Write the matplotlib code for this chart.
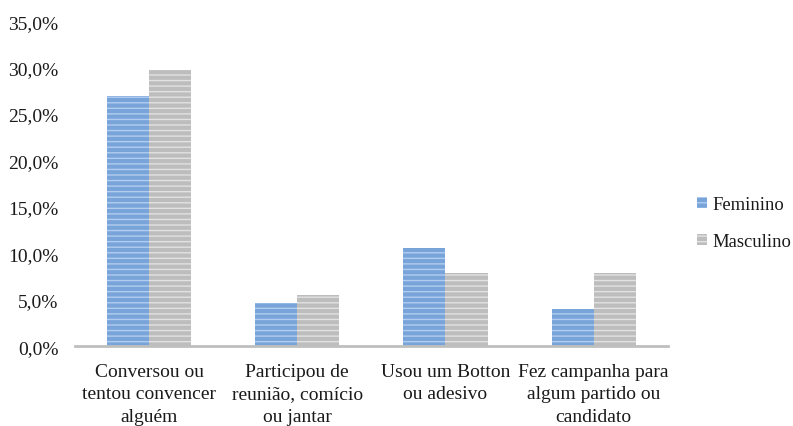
import matplotlib.pyplot as plt
import numpy as np
from matplotlib.ticker import FuncFormatter

categorias = ["Conversou ou\ntentou convencer\nalguém",
              "Participou de\nreunião, comício\nou jantar",
              "Usou um Botton\nou adesivo",
              "Fez campanha para\nalgum partido ou\ncandidato"]
feminino = [26.9, 4.6, 10.6, 4.0]
masculino = [29.7, 5.5, 7.9, 7.9]

plt.rcParams['font.family'] = ['Liberation Serif', 'DejaVu Serif']
plt.rcParams['hatch.linewidth'] = 1.0
plt.rcParams['text.color'] = "#1a1a1a"

def main():
    fig = plt.figure(figsize=(7.93, 4.27), dpi=100)
    ax = fig.add_axes([0.0946, 0.187, 0.842 - 0.0946, 0.948 - 0.187])

    x = np.arange(len(categorias))
    w = 0.284
    ax.bar(x - w / 2, feminino, w, facecolor="#78a4da", edgecolor="#b2cdef",
           hatch="---", linewidth=0, label="Feminino")
    ax.bar(x + w / 2, masculino, w, facecolor="#bdbdbd", edgecolor="#e2e2e2",
           hatch="---", linewidth=0, label="Masculino")

    ax.set_xlim(-0.5, len(categorias) - 0.5)
    ax.set_ylim(0, 35)
    ax.set_yticks(np.arange(0, 36, 5))
    ax.yaxis.set_major_formatter(FuncFormatter(lambda v, p: f"{v:.1f}%".replace(".", ",")))
    ax.set_xticks(x)
    ax.set_xticklabels(categorias, fontsize=14, linespacing=1.42, color="#1a1a1a")
    ax.tick_params(axis='y', labelsize=14, length=0, pad=12, labelcolor="#1a1a1a")
    ax.tick_params(axis='x', length=0, pad=12)

    for s in ["top", "right", "left"]:
        ax.spines[s].set_visible(False)
    ax.spines["bottom"].set_color("#bfbfbf")
    ax.spines["bottom"].set_linewidth(2)

    h, l = ax.get_legend_handles_labels()
    fig.legend(h, l, loc="center left", bbox_to_anchor=(0.879, 0.475), frameon=False,
               fontsize=13.4, handlelength=0.55, handleheight=0.55, handletextpad=0.3,
               labelspacing=1.1, borderpad=0, borderaxespad=0)

    fig.savefig("out.png", dpi=100)

main()
